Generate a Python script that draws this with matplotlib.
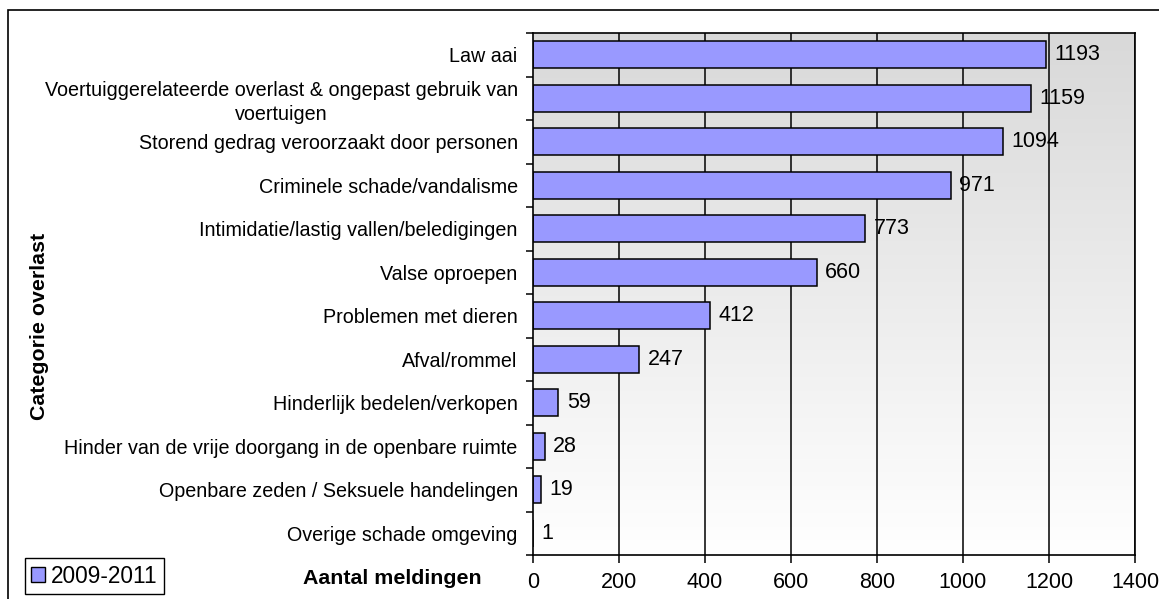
import matplotlib
matplotlib.use("Agg")
import matplotlib.pyplot as plt
import numpy as np
from matplotlib.patches import Patch, Rectangle

categories = [
    "Law aai",
    "Voertuiggerelateerde overlast & ongepast gebruik van\nvoertuigen",
    "Storend gedrag veroorzaakt door personen",
    "Criminele schade/vandalisme",
    "Intimidatie/lastig vallen/beledigingen",
    "Valse oproepen",
    "Problemen met dieren",
    "Afval/rommel",
    "Hinderlijk bedelen/verkopen",
    "Hinder van de vrije doorgang in de openbare ruimte",
    "Openbare zeden / Seksuele handelingen",
    "Overige schade omgeving",
]
values = [1193, 1159, 1094, 971, 773, 660, 412, 247, 59, 28, 19, 1]
series_name = "2009-2011"
xticks = [0, 200, 400, 600, 800, 1000, 1200, 1400]

plt.rcParams['font.family'] = ['Liberation Sans', 'DejaVu Sans']
FS_CAT = 14.2
FS_NUM = 15.5
FS_LAB = 15.4
FS_LEG = 16.3

W, H = 1159, 599
fig = plt.figure(figsize=(W / 100, H / 100), dpi=100)
L, R, T, B = 533, 1135, 33, 555
ax = fig.add_axes([L / W, (H - B) / H, (R - L) / W, (B - T) / H])

# outer frame
fig.patches.append(Rectangle((8 / W, -0.1), 1.2, (H - 10) / H + 0.1, transform=fig.transFigure,
                             fill=False, edgecolor='black', linewidth=1.2, zorder=0))

n = len(categories)
y = np.arange(n)
ax.set_xlim(0, 1400)
ax.set_ylim(n - 0.5, -0.5)

# gradient background
grad = np.linspace(0, 1, 256).reshape(-1, 1)
top = np.array([0.85, 0.85, 0.85])
bot = np.array([1.0, 1.0, 1.0])
img = top[None, None, :] * (1 - grad[:, :, None]) + bot[None, None, :] * grad[:, :, None]
ax.imshow(img, extent=[0, 1400, n - 0.5, -0.5], aspect='auto', zorder=0)

for xv in xticks[1:]:
    ax.axvline(xv, color='black', linewidth=1.1, zorder=1)

ax.barh(y, values, height=0.62, color='#9999ff', edgecolor='black', linewidth=1.1, zorder=2)
for yi, v in zip(y, values):
    ax.annotate(str(v), (v, yi), xytext=(6, 0), textcoords='offset points',
                va='center', ha='left', fontsize=FS_NUM, zorder=3)

ax.set_yticks(y)
ax.set_yticklabels(categories, fontsize=FS_CAT, multialignment='center', linespacing=1.3)
ax.set_yticks(np.arange(n + 1) - 0.5, minor=True)
ax.tick_params(axis='y', which='major', length=0, pad=11)
ax.tick_params(axis='y', which='minor', length=5, width=1.1, direction='out')
ax.set_xticks(xticks)
ax.set_xticklabels([str(t) for t in xticks], fontsize=FS_NUM)
ax.tick_params(axis='x', which='major', length=6, width=1.1, direction='out', pad=6)

for s in ax.spines.values():
    s.set_linewidth(1.2)
    s.set_color('black')

fig.text(40 / W, (H - 326) / H, "Categorie overlast", rotation=90, fontsize=FS_LAB,
         fontweight='bold', ha='center', va='center')
fig.text(482 / W, (H - 579) / H, "Aantal meldingen", fontsize=FS_LAB, fontweight='bold',
         ha='right', va='center')

fig.legend(handles=[Patch(facecolor='#9999ff', edgecolor='black', linewidth=1)],
           labels=[series_name], loc='lower left',
           bbox_to_anchor=(25 / W, 5 / H), fancybox=False, edgecolor='black',
           framealpha=1, borderaxespad=0, fontsize=FS_LEG, handlelength=0.6,
           handleheight=0.6, handletextpad=0.25, borderpad=0.28)

fig.savefig("out.png", dpi=100)
